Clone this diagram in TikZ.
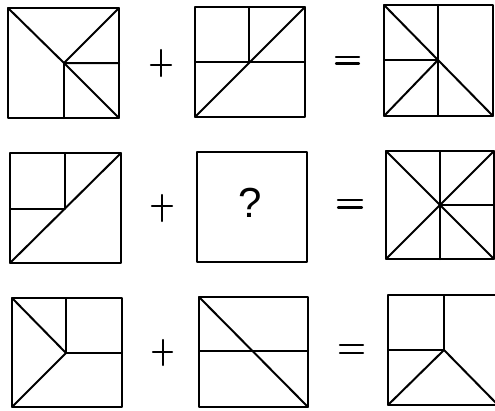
\documentclass[tikz,border=0pt]{standalone}
\usepackage{fontspec}
\setmainfont{Liberation Sans}
\begin{document}
\begin{tikzpicture}[x=1pt,y=-1pt,line cap=round,line join=round,
  fig/.style={line width=2pt,black},
  sym/.style={line width=2.2pt,black}]
\useasboundingbox (0,0) rectangle (495,410);
\clip (0,0) rectangle (495,410);
% ---------- Row 1 ----------
\draw[fig] (8,8) rectangle (119,118);
\coordinate (c11) at (64,63);
\draw[fig] (8,8) -- (c11) -- (119,118);
\draw[fig] (119,8) -- (c11) -- (119,63);
\draw[fig] (c11) -- (64,118);
\draw[sym] (161,50) -- (161,76) (151,65) -- (171,65);
\draw[fig] (195,7) rectangle (305,117);
\coordinate (c12) at (249,62);
\draw[fig] (249,7) -- (c12);
\draw[fig] (195,62) -- (305,62);
\draw[fig] (195,117) -- (305,7);
\draw[sym] (336,57) -- (359,57) (336,63.5) -- (359,63.5);
\draw[fig] (384,5) rectangle (493,116);
\coordinate (c13) at (438,60);
\draw[fig] (438,5) -- (438,116);
\draw[fig] (384,60) -- (c13);
\draw[fig] (384,5) -- (c13) -- (493,116);
\draw[fig] (384,116) -- (c13);
% ---------- Row 2 ----------
\draw[fig] (10,153) rectangle (121,263);
\coordinate (c21) at (65,208.5);
\draw[fig] (65,153) -- (c21) -- (10,208.5);
\draw[fig] (10,263) -- (121,153);
\draw[sym] (162,195) -- (162,221) (152,206) -- (172,206);
\draw[fig] (197,152) rectangle (307,262);
\node[inner sep=0pt,font=\fontsize{42}{42}\selectfont] (q) at (250,203) {?};
\draw[sym] (338,200) -- (362,200) (338,207.5) -- (362,207.5);
\draw[fig] (386,151) rectangle (494,259);
\coordinate (c23) at (440,205);
\draw[fig] (440,151) -- (440,259);
\draw[fig] (386,151) -- (c23) -- (494,259);
\draw[fig] (494,151) -- (c23) -- (386,259);
\draw[fig] (c23) -- (494,205);
% ---------- Row 3 ----------
\draw[fig] (12,298) rectangle (122,407);
\coordinate (c31) at (66,353);
\draw[fig] (66,298) -- (c31) -- (122,353);
\draw[fig] (12,298) -- (c31) -- (12,407);
\draw[sym] (163,340) -- (163,365) (153,352) -- (172,352);
\draw[fig] (199,297) rectangle (308,407);
\draw[fig] (199,351) -- (308,351);
\draw[fig] (199,297) -- (308,407);
\draw[sym] (340,345) -- (363,345) (340,353) -- (363,353);
\draw[fig] (499,295) -- (388,295) -- (388,405) -- (499,405);
\coordinate (c33) at (444,350);
\draw[fig] (444,295) -- (c33) -- (388,350);
\draw[fig] (388,405) -- (c33) -- (498,405);
\end{tikzpicture}
\end{document}
